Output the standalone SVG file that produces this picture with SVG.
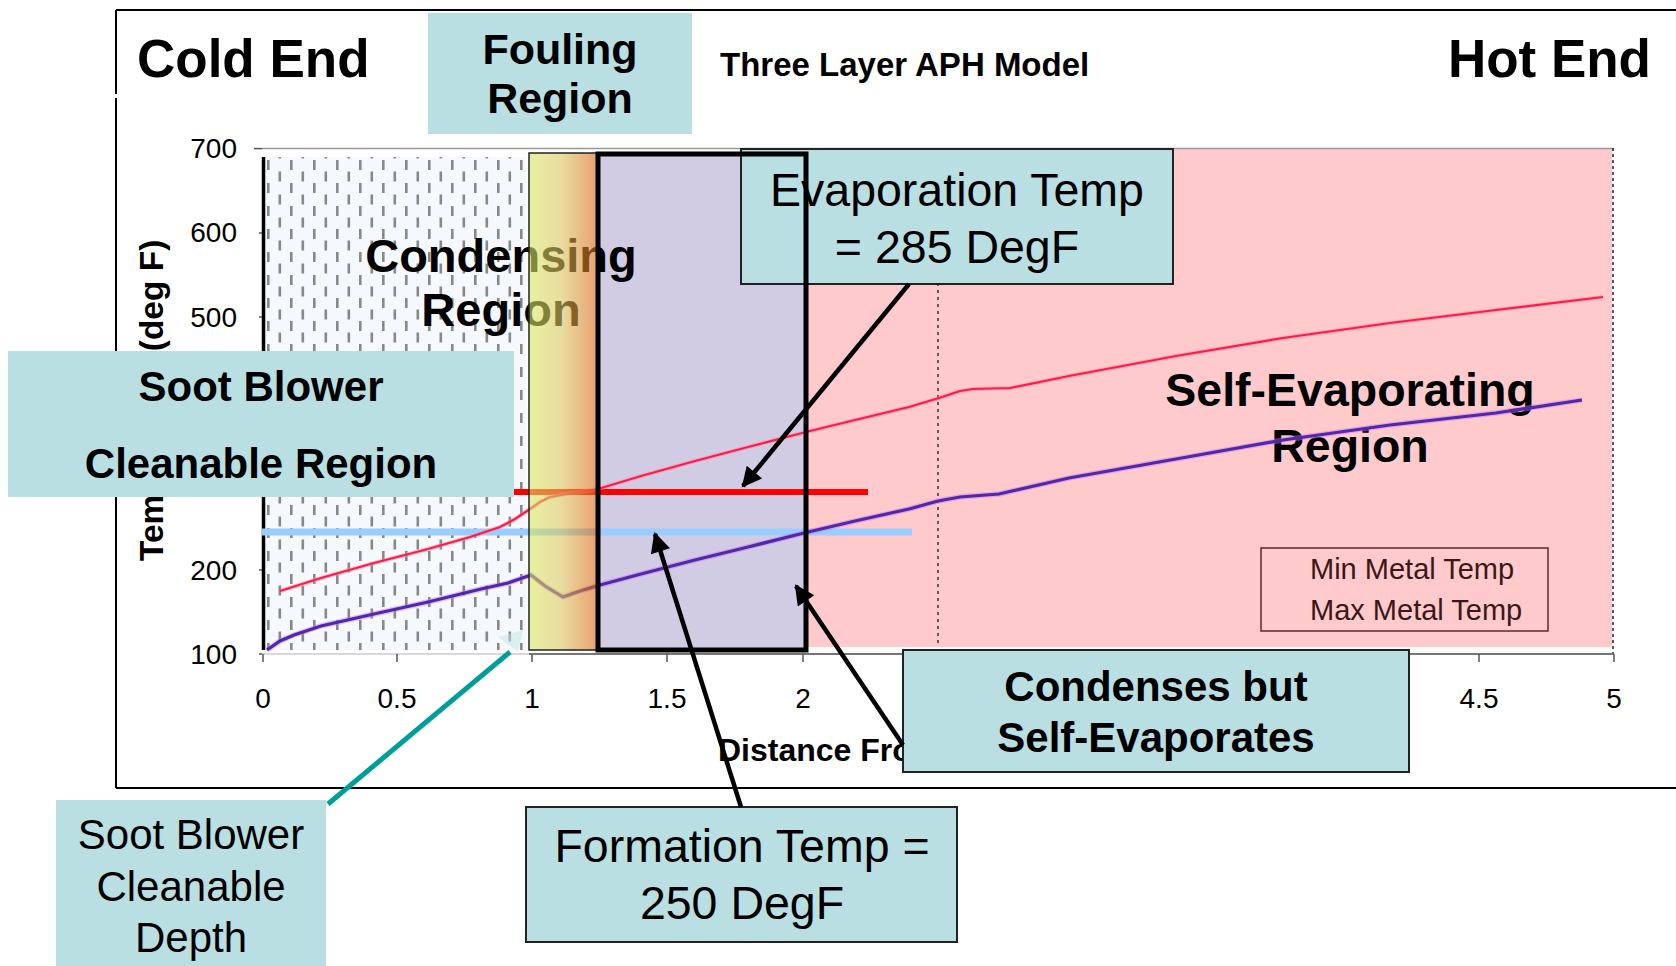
<svg xmlns="http://www.w3.org/2000/svg" width="1676" height="966" viewBox="0 0 1676 966">
<style>
  text { font-family: "Liberation Sans", Arial, sans-serif; fill: #000; }
  .b { font-weight: bold; }
  .tick { font-size: 28px; fill: #111; }
  .box { fill: #BADFE2; }
  .boxb { fill: #BADFE2; stroke: #222; stroke-width: 2; }
  .big { font-size: 46.5px; }
  .conn { stroke: #000; stroke-width: 4.5; fill: none; }
</style>
<defs>
  <marker id="ah" viewBox="0 0 10 10" refX="9" refY="5" markerWidth="24" markerHeight="20" markerUnits="userSpaceOnUse" orient="auto">
    <path d="M0,0 L10,5 L0,10 z" fill="#000"/>
  </marker>
  <pattern id="dots" patternUnits="userSpaceOnUse" x="262" y="157" width="23" height="23">
    <rect x="0" y="0" width="23" height="23" fill="#F5F9FD"/>
    <rect x="5" y="3" width="2.6" height="10" fill="#888"/>
    <rect x="16.5" y="14.5" width="2.6" height="10" fill="#888"/>
    <rect x="16.5" y="-8.5" width="2.6" height="10" fill="#888"/>
  </pattern>
  <linearGradient id="grad" x1="0" y1="0" x2="1" y2="0">
    <stop offset="0" stop-color="#D9E661"/>
    <stop offset="0.45" stop-color="#D9C860"/>
    <stop offset="1" stop-color="#D96111"/>
  </linearGradient>
</defs>
<rect width="1676" height="966" fill="#fff"/>

<g id="frame" stroke="#000" stroke-width="2" fill="none">
  <line x1="116" y1="10" x2="1676" y2="10"/>
  <line x1="116" y1="10" x2="116" y2="94"/>
  <line x1="116" y1="98" x2="116" y2="788"/>
  <line x1="116" y1="788" x2="1676" y2="788"/>
</g>

<g id="chart">
  <rect id="pink-region" x="806" y="148" width="806" height="499" fill="#FFCACC"/>
  <rect id="purple-fill" x="598" y="153" width="208" height="497" fill="#D1CCE3"/>
  <rect id="dotted-region" x="263" y="157" width="263" height="493" fill="url(#dots)"/>
  <line x1="263.5" y1="157" x2="263.5" y2="650" stroke="#000" stroke-width="3.5"/>
  <line x1="938" y1="150" x2="938" y2="647" stroke="#333" stroke-width="1.5" stroke-dasharray="3,4"/>
  <line x1="262" y1="148.6" x2="1614" y2="148.6" stroke="#999" stroke-width="1.5"/>
  <line x1="1613" y1="148" x2="1613" y2="654" stroke="#222" stroke-width="1.5" stroke-dasharray="3,3"/>
  <g stroke="#555" stroke-width="1.5">
    <line x1="262" y1="654" x2="1614" y2="654" stroke="#ccc"/>
    <line x1="529" y1="654" x2="1614" y2="654"/>
    <line x1="263" y1="654" x2="263" y2="662"/>
    <line x1="397" y1="654" x2="397" y2="662"/>
    <line x1="532" y1="654" x2="532" y2="662"/>
    <line x1="667" y1="654" x2="667" y2="662"/>
    <line x1="803" y1="654" x2="803" y2="662"/>
    <line x1="1479" y1="654" x2="1479" y2="662"/>
    <line x1="1614" y1="654" x2="1614" y2="662"/>
    <line x1="254" y1="148.6" x2="262" y2="148.6"/>
    <line x1="259" y1="233" x2="262" y2="233"/>
    <line x1="259" y1="317" x2="262" y2="317"/>
    <line x1="259" y1="570" x2="262" y2="570"/>
    <line x1="259" y1="654" x2="262" y2="654"/>
  </g>
  <g class="tick" text-anchor="end">
    <text x="237" y="158">700</text>
    <text x="237" y="242">600</text>
    <text x="237" y="327">500</text>
    <text x="237" y="580">200</text>
    <text x="237" y="664">100</text>
  </g>
  <g class="tick" text-anchor="middle">
    <text x="263" y="708">0</text>
    <text x="397" y="708">0.5</text>
    <text x="532" y="708">1</text>
    <text x="667" y="708">1.5</text>
    <text x="803" y="708">2</text>
    <text x="1479" y="708">4.5</text>
    <text x="1614" y="708">5</text>
  </g>
  <text class="b" x="718" y="761" font-size="32">Distance From</text>
  <text class="b" font-size="33.5" transform="translate(163,561) rotate(-90)">Temperature (deg F)</text>

  <text class="b" x="501" y="272" font-size="47" text-anchor="middle">Condensing</text>
  <text class="b" x="501" y="326" font-size="47" text-anchor="middle">Region</text>

  <text class="b" x="1350" y="406" font-size="46.5" text-anchor="middle">Self-Evaporating</text>
  <text class="b" x="1350" y="462" font-size="46.5" text-anchor="middle">Region</text>

  <line x1="480" y1="492" x2="868" y2="492" stroke="#FF0000" stroke-width="6"/>
  <line x1="262" y1="532" x2="912" y2="532" stroke="#99CCFF" stroke-width="7"/>

  <polyline fill="none" stroke="#FF8AA0" stroke-width="4" stroke-opacity="0.5" points="280,591 321,578 374,563 428,549 470,537 500,527 515,519 527,511 540,502 550,497 567,494 598,489 641,476 695,461 748,447 806,432 855,420 909,407 939,398 960,391 973,389 1010,388 1069,376 1176,356 1283,338 1390,323 1496,310 1603,297"/>
  <polyline fill="none" stroke="#FF1A4A" stroke-width="2.2" points="280,591 321,578 374,563 428,549 470,537 500,527 515,519 527,511 540,502 550,497 567,494 598,489 641,476 695,461 748,447 806,432 855,420 909,407 939,398 960,391 973,389 1010,388 1069,376 1176,356 1283,338 1390,323 1496,310 1603,297"/>
  <polyline fill="none" stroke="#E070E0" stroke-width="5.5" stroke-opacity="0.45" points="267,650 280,641 294,635 321,626 374,614 428,602 481,589 508,583 531,575 545,586 563,597 580,591 600,585 641,574 695,560 748,547 804,533 855,521 909,509 938,501 960,497 999,494 1069,478 1176,459 1283,440 1390,425 1496,413 1582,400"/>
  <polyline fill="none" stroke="#4A2AAE" stroke-width="3.2" points="267,650 280,641 294,635 321,626 374,614 428,602 481,589 508,583 531,575 545,586 563,597 580,591 600,585 641,574 695,560 748,547 804,533 855,521 909,509 938,501 960,497 999,494 1069,478 1176,459 1283,440 1390,425 1496,413 1582,400"/>

  <rect id="gradient-region" x="529" y="153" width="69" height="497" fill="url(#grad)" fill-opacity="0.6"/>
  <rect x="529" y="153" width="69" height="497" fill="none" stroke="#222" stroke-width="1.5"/>

  <g id="legend">
    <rect x="1261" y="548" width="287" height="83" fill="none" stroke="#5A2A2A" stroke-width="1.5"/>
    <text x="1310" y="579" font-size="29" style="fill:#3A1818">Min Metal Temp</text>
    <text x="1310" y="620" font-size="29" style="fill:#3A1818">Max Metal Temp</text>
  </g>
</g>

<g id="evaporation-temp">
  <rect class="boxb" x="741" y="149" width="432" height="135"/>
  <text class="big" x="957" y="206" text-anchor="middle">Evaporation Temp</text>
  <text class="big" x="957" y="263" text-anchor="middle">= 285 DegF</text>
</g>

<rect id="purple-border" x="598" y="154" width="208" height="496" fill="none" stroke="#000" stroke-width="5"/>

<g id="soot-blower-region">
  <rect class="box" x="8" y="351" width="506" height="146"/>
  <text class="b" x="261" y="401" font-size="42" text-anchor="middle">Soot Blower</text>
  <text class="b" x="261" y="478" font-size="42" text-anchor="middle">Cleanable Region</text>
</g>

<g id="fouling-region">
  <rect class="box" x="428" y="13" width="264" height="121"/>
  <text class="b" x="560" y="64" font-size="43" text-anchor="middle">Fouling</text>
  <text class="b" x="560" y="113" font-size="43" text-anchor="middle">Region</text>
</g>

<g id="titles">
  <text class="b" x="137" y="77" font-size="53">Cold End</text>
  <text class="b" x="1651" y="77" font-size="53" text-anchor="end">Hot End</text>
  <text class="b" x="720" y="76" font-size="33">Three Layer APH Model</text>
</g>

<g id="condenses">
  <rect class="boxb" x="903" y="650" width="506" height="122"/>
  <text class="b" x="1156" y="701" font-size="42" text-anchor="middle">Condenses but</text>
  <text class="b" x="1156" y="752" font-size="42" text-anchor="middle">Self-Evaporates</text>
</g>

<g id="formation-temp">
  <rect class="boxb" x="526" y="807" width="431" height="135"/>
  <text class="big" x="742" y="862" text-anchor="middle">Formation Temp =</text>
  <text class="big" x="742" y="919" text-anchor="middle">250 DegF</text>
</g>

<g id="soot-blower-depth">
  <rect class="box" x="56" y="800" width="270" height="170"/>
  <text x="191" y="849" font-size="42" text-anchor="middle">Soot Blower</text>
  <text x="191" y="901" font-size="42" text-anchor="middle">Cleanable</text>
  <text x="191" y="952" font-size="42" text-anchor="middle">Depth</text>
</g>

<g id="connectors">
  <line class="conn" x1="909" y1="284" x2="743" y2="486" marker-end="url(#ah)"/>
  <line class="conn" x1="741" y1="807" x2="655" y2="534" marker-end="url(#ah)"/>
  <line class="conn" x1="903" y1="745" x2="796" y2="586" marker-end="url(#ah)"/>
  <line x1="328" y1="804" x2="510" y2="652" stroke="#009E9A" stroke-width="5"/>
  <polygon points="498,637 523,630 518,652" fill="#BFE6E2" fill-opacity="0.5"/>
</g>
</svg>
